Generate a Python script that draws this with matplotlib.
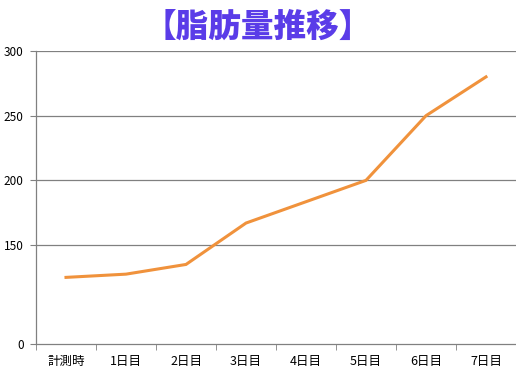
import matplotlib.pyplot as plt

plt.rcParams['font.family'] = ['Noto Sans CJK JP', 'DejaVu Sans']

# データ
days = ['計測時', '1日目', '2日目', '3日目', '4日目', '5日目', '6日目', '7日目']
fat = [125, 127.5, 135, 167, 183.5, 200, 250, 280]

# y軸（下端は「0」と表示されるが実際は省略された軸）
y_bottom = 73.5
y_ticks = [y_bottom, 150, 200, 250, 300]
y_labels = ['0', '150', '200', '250', '300']

fig = plt.figure(figsize=(5.16, 3.79), dpi=100)
ax = fig.add_axes([36 / 516, 35 / 379, 480 / 516, 293 / 379])

ax.plot(range(len(days)), fat, color='#F0923C', linewidth=2.2, solid_joinstyle='miter')

ax.set_xlim(-0.5, len(days) - 0.5)
ax.set_ylim(y_bottom, 300)
ax.set_yticks(y_ticks)
ax.set_yticklabels(y_labels, fontsize=8.5)
ax.set_xticks(range(len(days)))
ax.set_xticklabels(days, fontsize=9)
ax.set_xticks([i - 0.5 for i in range(len(days) + 1)], minor=True)
ax.tick_params(axis='x', which='major', length=0, pad=8)
ax.tick_params(axis='x', which='minor', length=4, color='#808080', direction='out')
ax.tick_params(axis='y', length=4, color='#808080', direction='out', pad=5)

for v in y_ticks[1:]:
    ax.axhline(v, color='#808080', linewidth=0.9, zorder=0)

for s in ['top', 'right']:
    ax.spines[s].set_visible(False)
for s in ['left', 'bottom']:
    ax.spines[s].set_color('#808080')
    ax.spines[s].set_linewidth(0.9)

fig.text(0.5, 1 - 27 / 379, '【脂肪量推移】', ha='center', va='center',
         fontsize=23.5, fontweight='black', color='#5A3CE8')

fig.savefig('out.png', dpi=100)
